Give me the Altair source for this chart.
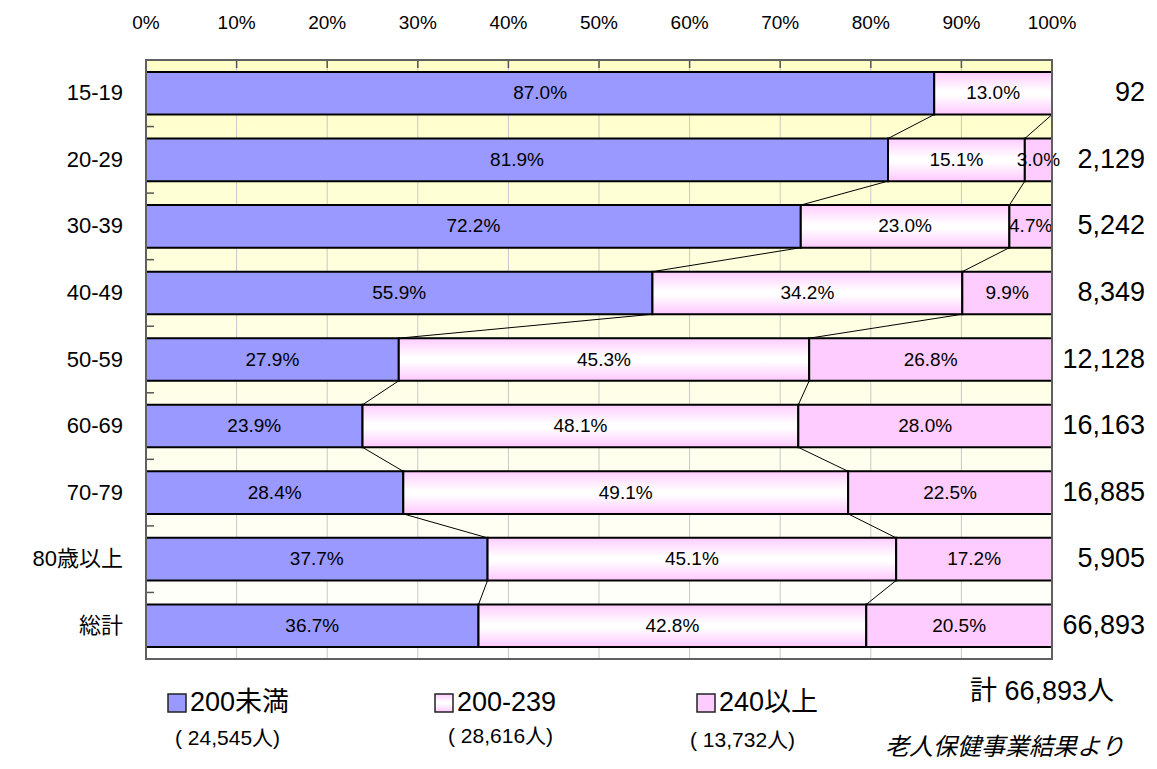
import altair as alt
import pandas as pd

# ---------------- data ----------------
categories = ["15-19", "20-29", "30-39", "40-49", "50-59", "60-69", "70-79", "80歳以上", "総計"]
pct_lt200 = [87.0, 81.9, 72.2, 55.9, 27.9, 23.9, 28.4, 37.7, 36.7]
pct_200_239 = [13.0, 15.1, 23.0, 34.2, 45.3, 48.1, 49.1, 45.1, 42.8]
pct_ge240 = [0.0, 3.0, 4.7, 9.9, 26.8, 28.0, 22.5, 17.2, 20.5]
counts = [92, 2129, 5242, 8349, 12128, 16163, 16885, 5905, 66893]
series_names = ["200未満", "200-239", "240以上"]
series_totals = ["( 24,545人)", "( 28,616人)", "( 13,732人)"]
grand_total_text = "計 66,893人"
source_text = "老人保健事業結果より"
x_ticks = [0, 10, 20, 30, 40, 50, 60, 70, 80, 90, 100]

# ---------------- layout / style ----------------
W, H = 906, 599
HALF = 0.32
SANS = "Liberation Sans, Arial, Noto Sans CJK JP"
BLUE = "#9999FF"
PINK = "#FFCCFF"

white_grad = alt.LinearGradient(
    gradient="linear", x1=0, y1=0, x2=0, y2=1,
    stops=[alt.GradientStop(color="#FFCCFF", offset=0),
           alt.GradientStop(color="#FFFFFF", offset=0.45),
           alt.GradientStop(color="#FFFFFF", offset=0.55),
           alt.GradientStop(color="#FFC8FF", offset=1)])
bg_grad = alt.LinearGradient(
    gradient="linear", x1=0, y1=0, x2=0, y2=1,
    stops=[alt.GradientStop(color="#FFFFC8", offset=0),
           alt.GradientStop(color="#FFFFE6", offset=0.5),
           alt.GradientStop(color="#FFFFFF", offset=1)])

# ---------------- derived tables ----------------
rows = []
for i, cat in enumerate(categories):
    vals = [pct_lt200[i], pct_200_239[i], pct_ge240[i]]
    tot = sum(vals)
    start = 0.0
    for s, v in zip(series_names, vals):
        end = start + v / tot * 100
        rows.append(dict(idx=i, cat=cat, series=s, v=v, x0=start, x1=end,
                         mid=(start + end) / 2, y0=i - HALF, y1=i + HALF,
                         label=f"{v:.1f}%"))
        start = end
seg = pd.DataFrame(rows)

conn = []
for i in range(len(categories) - 1):
    for s in series_names[:2]:
        a = seg[(seg.idx == i) & (seg.series == s)].x1.iloc[0]
        b = seg[(seg.idx == i + 1) & (seg.series == s)].x1.iloc[0]
        conn.append(dict(xa=a, xb=b, ya=i + HALF, yb=i + 1 - HALF))
conn = pd.DataFrame(conn)

cats = pd.DataFrame({"idx": list(range(len(categories))), "cat": categories, "count": counts})
grid = pd.DataFrame({"t": x_ticks, "lab": [f"{t}%" for t in x_ticks]})
inner = pd.DataFrame({"t": x_ticks[1:-1]})
bounds = pd.DataFrame({"b": [i + 0.5 for i in range(len(categories))]})
one = pd.DataFrame({"a": [0]})

xs = alt.Scale(domain=[0, 100], nice=False, zero=False)
ys = alt.Scale(domain=[-0.5, len(categories) - 0.5], reverse=True, nice=False, zero=False)

def X(f):
    return alt.X(f, type="quantitative", scale=xs, axis=None)

def Y(f):
    return alt.Y(f, type="quantitative", scale=ys, axis=None)

layers = []
# background
layers.append(alt.Chart(one).mark_rect(fill=bg_grad).encode(
    x=alt.value(0), x2=alt.value(W), y=alt.value(0), y2=alt.value(H)))
# grid
layers.append(alt.Chart(grid).mark_rule(color="#C8C8C8", strokeWidth=1).encode(
    x=X("t"), y=alt.value(0), y2=alt.value(H)))
# top tick labels
layers.append(alt.Chart(grid).mark_text(font=SANS, fontSize=19, color="black",
                                        baseline="middle").encode(
    x=X("t"), y=alt.value(-37), text="lab:N"))
# inward ticks on top edge
layers.append(alt.Chart(inner).mark_rule(color="#555555", strokeWidth=1.5).encode(
    x=X("t"), y=alt.value(0), y2=alt.value(8)))
# inward ticks on left edge
layers.append(alt.Chart(bounds).mark_rule(color="#555555", strokeWidth=1.5).encode(
    y=Y("b"), x=alt.value(0), x2=alt.value(8)))
# series connector lines
layers.append(alt.Chart(conn).mark_rule(color="black", strokeWidth=1).encode(
    x=X("xa"), x2=alt.X2("xb"), y=Y("ya"), y2=alt.Y2("yb")))
# bars
fills = [BLUE, white_grad, PINK]
for s, f in zip(series_names, fills):
    layers.append(alt.Chart(seg).transform_filter(
        (alt.datum.series == s) & (alt.datum.v > 0)).mark_rect(
        fill=f, stroke="black", strokeWidth=2).encode(
        x=X("x0"), x2=alt.X2("x1"), y=Y("y0"), y2=alt.Y2("y1")))
# segment labels
layers.append(alt.Chart(seg).transform_filter(alt.datum.v > 0).mark_text(
    font=SANS, fontSize=19, color="black").encode(
    x=X("mid"), y=Y("idx"), text="label:N"))
# plot border
layers.append(alt.Chart(one).mark_rect(filled=False, stroke="#606060", strokeWidth=2).encode(
    x=alt.value(0), x2=alt.value(W), y=alt.value(0), y2=alt.value(H)))
# category labels
layers.append(alt.Chart(cats).mark_text(align="right", font=SANS, fontSize=22, color="black").encode(
    x=alt.value(-23), y=Y("idx"), text="cat:N"))
# counts
layers.append(alt.Chart(cats).mark_text(align="right", font=SANS, fontSize=27, color="black").encode(
    x=alt.value(999), y=Y("idx"), text=alt.Text("count:Q", format=",")))

# legend
legend_x = [22, 289, 551]
legend_sub_x = [29, 302, 544]
legend_sub_y = [679, 677, 681]
for k in range(3):
    lx = legend_x[k]
    layers.append(alt.Chart(one).mark_rect(fill=fills[k], stroke="#222222", strokeWidth=1.5).encode(
        x=alt.value(lx), x2=alt.value(lx + 18), y=alt.value(634), y2=alt.value(652)))
    layers.append(alt.Chart(one).mark_text(align="left", baseline="middle", font=SANS,
                                           fontSize=27, color="black", text=series_names[k]).encode(
        x=alt.value(lx + 22), y=alt.value(643)))
    layers.append(alt.Chart(one).mark_text(align="left", baseline="middle", font=SANS,
                                           fontSize=21, color="black", text=series_totals[k]).encode(
        x=alt.value(legend_sub_x[k]), y=alt.value(legend_sub_y[k])))
layers.append(alt.Chart(one).mark_text(align="left", baseline="middle", font=SANS,
                                       fontSize=27, color="black", text=grand_total_text).encode(
    x=alt.value(824), y=alt.value(632)))
layers.append(alt.Chart(one).mark_text(align="left", baseline="middle", font=SANS,
                                       fontSize=24, fontStyle="italic", color="black",
                                       text=source_text).encode(
    x=alt.value(739), y=alt.value(688)))

chart = alt.layer(*layers).properties(
    width=W, height=H,
    padding={"left": 138, "top": 52, "right": 97, "bottom": 102},
    autosize=alt.AutoSizeParams(type="none"),
    background="white",
).configure_view(strokeWidth=0)

chart.save("out.html", embed_options={"renderer": "svg", "actions": False})
